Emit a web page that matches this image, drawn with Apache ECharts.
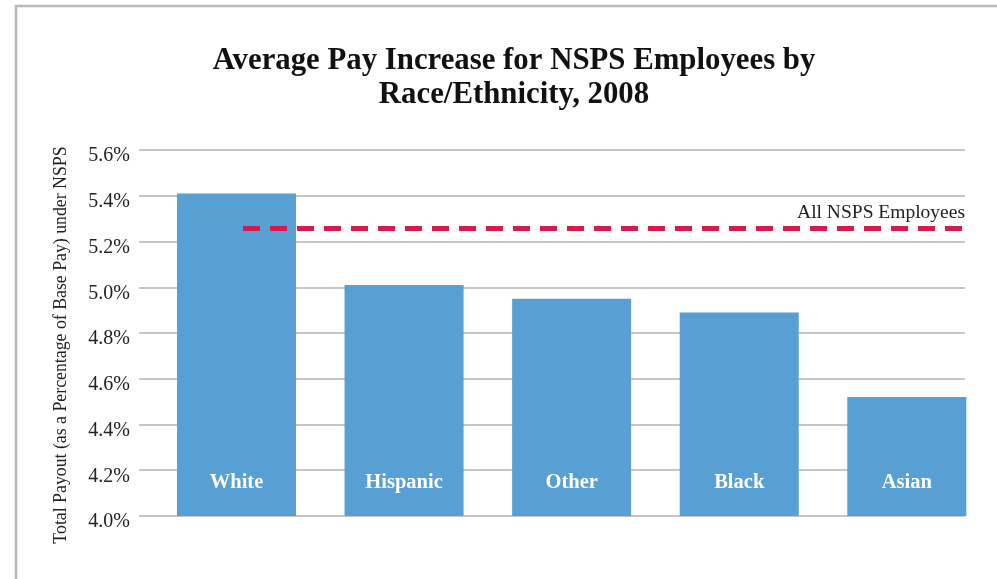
<!DOCTYPE html>
<html>
<head>
<meta charset="utf-8">
<script src="https://cdn.jsdelivr.net/npm/echarts@6/dist/echarts.min.js"></script>
<style>
  html, body { margin: 0; padding: 0; background: #fff; }
  #chart { width: 997px; height: 579px; }
</style>
</head>
<body>
<div id="chart"></div>
<script>
const categories = ['White', 'Hispanic', 'Other', 'Black', 'Asian'];
const payIncrease = [5.41, 5.01, 4.95, 4.89, 4.52];
const allEmployeesAvg = 5.26;
const yTicks = [4.0, 4.2, 4.4, 4.6, 4.8, 5.0, 5.2, 5.4, 5.6];

const SERIF = '"Liberation Serif", "DejaVu Serif", serif';
const yMin = yTicks[0], yMax = yTicks[yTicks.length - 1], yStep = 0.2;
const gridTop = 150, gridBottom = 63;

const chart = echarts.init(document.getElementById('chart'), null, { renderer: 'canvas' });

const hiddenY = (idx) => ({
  type: 'value', gridIndex: idx, min: yMin, max: yMax, interval: yStep,
  show: false
});
const hiddenX = (idx) => ({
  type: 'category', gridIndex: idx, data: categories, show: false
});

chart.setOption({
  backgroundColor: '#fff',
  animation: false,
  title: {
    text: 'Average Pay Increase for NSPS Employees by\nRace/Ethnicity, 2008',
    left: 509, top: 39, textAlign: 'center',
    textStyle: { fontFamily: SERIF, fontWeight: 'bold', fontSize: 30.8, lineHeight: 34, color: '#111' }
  },
  graphic: [{
    type: 'rect', silent: true,
    shape: { x: 16, y: 6, width: 1100, height: 1100 },
    style: { fill: 'none', stroke: '#b7babd', lineWidth: 2.5 }
  }],
  grid: [
    { left: 139, right: 32, top: gridTop, bottom: gridBottom },
    { left: 152.7, right: 6.4, top: gridTop, bottom: gridBottom },
    { left: 243, right: 32, top: gridTop, bottom: gridBottom }
  ],
  xAxis: [
    { type: 'category', gridIndex: 0, data: categories, axisLine: { show: false },
      axisTick: { show: false }, axisLabel: { show: false } },
    hiddenX(1),
    hiddenX(2)
  ],
  yAxis: [
    {
      type: 'value', gridIndex: 0, min: yMin, max: yMax, interval: yStep,
      name: 'Total Payout (as a Percentage of Base Pay) under NSPS',
      nameLocation: 'middle', nameGap: 69, nameRotate: 90,
      nameTextStyle: { fontFamily: SERIF, fontSize: 17.8, color: '#222', padding: [0, 24, 0, 0] },
      axisLine: { show: false }, axisTick: { show: false },
      axisLabel: { fontFamily: SERIF, fontSize: 20, color: '#222', margin: 9,
        verticalAlign: 'top', lineHeight: 12,
        formatter: v => v.toFixed(1) + '%' },
      splitLine: { show: true, lineStyle: { color: '#b3b3b3', width: 1.5 } }
    },
    hiddenY(1),
    hiddenY(2)
  ],
  series: [
    {
      type: 'bar', xAxisIndex: 1, yAxisIndex: 1,
      data: payIncrease,
      barWidth: 119,
      itemStyle: { color: '#589fd3' },
      label: {
        show: true, position: 'insideBottom', distance: 23,
        formatter: '{b}', color: '#fff', fontFamily: SERIF,
        fontWeight: 'bold', fontSize: 20.5
      }
    },
    {
      type: 'line', xAxisIndex: 2, yAxisIndex: 2, data: [],
      markLine: {
        silent: true, symbol: 'none',
        lineStyle: { color: '#d8194b', type: [17, 10], width: 5 },
        label: {
          show: true, position: 'insideEndTop', formatter: 'All NSPS Employees',
          fontFamily: SERIF, fontSize: 19.5, color: '#222', distance: [0, 5]
        },
        data: [{ yAxis: allEmployeesAvg }]
      }
    }
  ]
});
</script>
</body>
</html>
